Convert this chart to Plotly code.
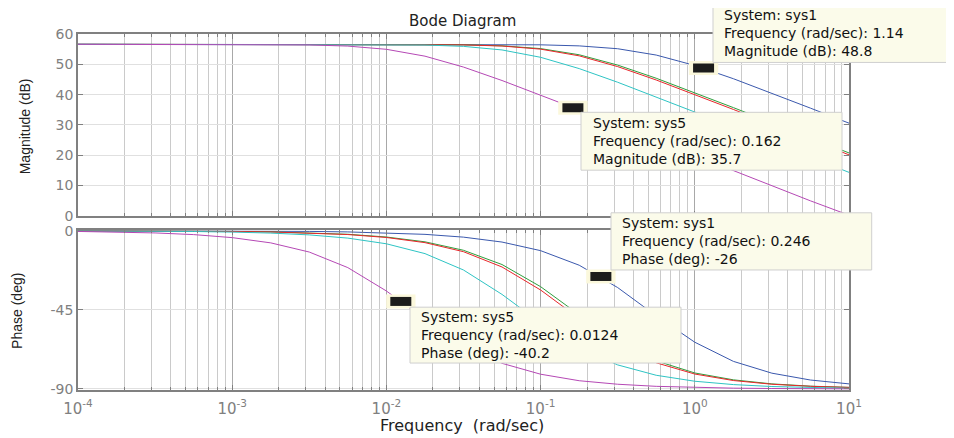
import plotly.graph_objects as go

# ---------------- data ----------------
freq = [1e-4, 1.78e-4, 3.16e-4, 5.62e-4,
        1e-3, 1.78e-3, 3.16e-3, 5.62e-3,
        1e-2, 1.78e-2, 3.16e-2, 5.62e-2,
        0.1, 0.178, 0.316, 0.562,
        1, 1.78, 3.16, 5.62, 10]

mag_sys1 = [56.6, 56.6, 56.6, 56.6, 56.6, 56.6, 56.6, 56.6, 56.6, 56.59, 56.58,
            56.55, 56.43, 56.08, 55.14, 53.05, 49.61, 45.24, 40.48, 35.54, 30.57]
mag_sys2 = [56.6, 56.6, 56.6, 56.6, 56.6, 56.6, 56.6, 56.59, 56.58, 56.55, 56.44,
            56.1, 55.18, 53.14, 49.74, 45.4, 40.63, 35.7, 30.73, 25.74, 20.74]
mag_sys3 = [56.6, 56.6, 56.6, 56.6, 56.6, 56.6, 56.6, 56.59, 56.58, 56.54, 56.41,
            56.03, 55.0, 52.79, 49.24, 44.82, 40.03, 35.09, 30.11, 25.12, 20.12]
mag_sys4 = [56.6, 56.6, 56.6, 56.6, 56.6, 56.6, 56.59, 56.58, 56.53, 56.37, 55.92,
            54.74, 52.31, 48.58, 44.08, 39.25, 34.3, 29.32, 24.33, 19.33, 14.33]
mag_sys5 = [56.6, 56.6, 56.6, 56.59, 56.58, 56.54, 56.4, 56.01, 54.95, 52.68, 49.09,
            44.65, 39.84, 34.91, 29.93, 24.93, 19.94, 14.94, 9.94, 4.94, 0.2]

phase_sys1 = [-0.01, -0.02, -0.04, -0.06, -0.11, -0.2, -0.36, -0.65, -1.15, -2.04, -3.62,
              -6.42, -11.31, -19.6, -32.3, -48.4, -63.4, -74.3, -81.0, -84.9, -87.1]
phase_sys2 = [-0.04, -0.06, -0.11, -0.2, -0.36, -0.63, -1.12, -2.0, -3.55, -6.3, -11.1,
              -19.2, -31.8, -47.8, -63.0, -74.0, -80.9, -84.8, -87.1, -88.4, -89.1]
phase_sys3 = [-0.04, -0.07, -0.12, -0.22, -0.38, -0.68, -1.21, -2.15, -3.82, -6.76, -11.9,
              -20.6, -33.7, -49.9, -64.6, -75.1, -81.5, -85.2, -87.3, -88.5, -89.1]
phase_sys4 = [-0.07, -0.13, -0.24, -0.42, -0.75, -1.32, -2.35, -4.18, -7.41, -13.0, -22.3,
              -36.2, -52.4, -66.6, -76.3, -82.2, -85.6, -87.5, -88.6, -89.2, -89.6]
phase_sys5 = [-0.39, -0.69, -1.23, -2.19, -3.9, -6.9, -12.1, -20.96, -34.25, -50.45, -65.1,
              -75.4, -81.6, -85.3, -87.3, -88.5, -89.16, -89.53, -89.73, -89.85, -89.92]

system_names = ["sys1", "sys2", "sys3", "sys4", "sys5"]
mag_series = [mag_sys1, mag_sys2, mag_sys3, mag_sys4, mag_sys5]
phase_series = [phase_sys1, phase_sys2, phase_sys3, phase_sys4, phase_sys5]

mag_ticks = [0, 10, 20, 30, 40, 50, 60]
phase_ticks = [0, -45, -90]
phase_tick_labels = ["0", "-45", "-90"]
freq_ticks = [1e-4, 1e-3, 1e-2, 1e-1, 1, 10]
freq_tick_labels = ["10<sup>-4</sup>", "10<sup>-3</sup>", "10<sup>-2</sup>",
                    "10<sup>-1</sup>", "10<sup>0</sup>", "10<sup>1</sup>"]

# data tips
tip_system = ["sys1", "sys5", "sys1", "sys5"]
tip_freq = [1.14, 0.162, 0.246, 0.0124]
tip_value = [48.8, 35.7, -26, -40.2]
tip_label = ["Magnitude (dB)", "Magnitude (dB)", "Phase (deg)", "Phase (deg)"]
tip_panel = ["mag", "mag", "phase", "phase"]

# ---------------- styling / layout ----------------
colors = ["#3a58ad", "#2e9e3e", "#e8262a", "#2ec4c4", "#b548b5"]

# the page body has an 8px margin; the figure fills the rest of the window
W, H = 946, 430
ML, MR, MT, MB = 70, 105, 25.5, 47.7
PW = W - ML - MR
PH = H - MT - MB
OFF = 8


def px(x):  # window pixel -> paper fraction
    return (x - OFF - ML) / PW


def py(y):
    return (H - MB - (y - OFF)) / PH


FONT = "DejaVu Sans, Verdana, sans-serif"
NARROW = "Liberation Sans Narrow, Arial Narrow, Liberation Sans, Arial, sans-serif"
GRAY = "#808080"

fig = go.Figure()
for name, col, m in zip(system_names, colors, mag_series):
    fig.add_trace(go.Scatter(x=freq, y=m, mode="lines", name=name,
                             line=dict(color=col, width=1),
                             xaxis="x", yaxis="y", hoverinfo="skip", showlegend=False))
for name, col, p in zip(system_names, colors, phase_series):
    fig.add_trace(go.Scatter(x=freq, y=p, mode="lines", name=name,
                             line=dict(color=col, width=1),
                             xaxis="x2", yaxis="y2", hoverinfo="skip", showlegend=False))

# data-tip markers (black bar with pale border), drawn through the axes
for panel, xa, ya in (("mag", "x", "y"), ("phase", "x2", "y2")):
    fx = [f for f, pn in zip(tip_freq, tip_panel) if pn == panel]
    fy = [v for v, pn in zip(tip_value, tip_panel) if pn == panel]
    fig.add_trace(go.Scatter(x=fx, y=fy, mode="markers", xaxis=xa, yaxis=ya,
                             marker=dict(symbol="line-ew", size=21,
                                         line=dict(color="#fbf8dc", width=14)),
                             hoverinfo="skip", showlegend=False))
    fig.add_trace(go.Scatter(x=fx, y=fy, mode="markers", xaxis=xa, yaxis=ya,
                             marker=dict(symbol="line-ew", size=15,
                                         line=dict(color="#1c1c1c", width=9)),
                             hoverinfo="skip", showlegend=False))

minor_vals = [k * 10 ** d for d in range(-4, 1) for k in range(2, 10)]

xcommon = dict(type="log", range=[-4, 1], domain=[0, 1],
               tickmode="array", tickvals=freq_ticks, ticktext=freq_tick_labels,
               showgrid=True, gridcolor="#a8a8a8", gridwidth=1,
               ticks="inside", ticklen=5, tickcolor=GRAY,
               showline=True, linecolor=GRAY, linewidth=1.5, mirror="ticks",
               minor=dict(tickmode="array", tickvals=minor_vals, showgrid=True,
                          gridcolor="#cacaca", gridwidth=1, ticks="inside",
                          ticklen=3, tickcolor=GRAY),
               zeroline=False)

ycommon = dict(showgrid=True, gridcolor="#e0e0e0", gridwidth=1,
               ticks="inside", ticklen=5, tickcolor=GRAY,
               showline=True, linecolor=GRAY, linewidth=1.5, mirror="ticks",
               zeroline=False, tickfont=dict(family=FONT, size=14, color=GRAY))

fig.update_layout(
    width=W, height=H,
    margin=dict(l=ML, r=MR, t=MT, b=MB, pad=0),
    paper_bgcolor="white", plot_bgcolor="white",
    showlegend=False,
    xaxis=dict(xcommon, anchor="y", showticklabels=False),
    xaxis2=dict(xcommon, anchor="y2", showticklabels=True, matches="x",
                ticklabelstandoff=4,
                tickfont=dict(family=FONT, size=15, color=GRAY)),
    yaxis=dict(ycommon, anchor="x", domain=[py(215.7), 1], range=[0, 60],
               tickmode="array", tickvals=mag_ticks),
    yaxis2=dict(ycommon, anchor="x2", domain=[0, py(230.3)], range=[-90.58, 0.23],
                tickmode="array", tickvals=phase_ticks, ticktext=phase_tick_labels),
)

ann = []
shapes = []

# titles
ann.append(dict(text="Bode Diagram", xref="paper", yref="paper", x=px(462), y=py(20),
                xanchor="center", yanchor="middle", showarrow=False,
                font=dict(family=FONT, size=15, color="#222")))
ann.append(dict(text="Frequency\u00a0 (rad/sec)", xref="paper", yref="paper", x=px(462), y=py(426),
                xanchor="center", yanchor="middle", showarrow=False,
                font=dict(family=FONT, size=16, color="#222")))
ann.append(dict(text="Magnitude (dB)", xref="paper", yref="paper", x=px(25), y=py(126),
                xanchor="center", yanchor="middle", showarrow=False, textangle=-90,
                font=dict(family=NARROW, size=14, color="#222")))
ann.append(dict(text="Phase (deg)", xref="paper", yref="paper", x=px(17), y=py(311),
                xanchor="center", yanchor="middle", showarrow=False, textangle=-90,
                font=dict(family=NARROW, size=14, color="#222")))

# data-tip boxes: (left, top, right, bottom, text-left) in window pixels
tip_boxes = [(713, 3, 962, 62, 722),
             (581, 112, 842, 170, 591),
             (611, 212.7, 871.7, 270, 620),
             (410, 307.3, 681, 363.3, 419)]

for i, (x0, y0, x1, y1, tx) in enumerate(tip_boxes):
    shapes.append(dict(type="rect", xref="paper", yref="paper",
                       x0=px(x0), x1=px(x1), y0=py(y1), y1=py(y0),
                       fillcolor="#fbfbea", line=dict(color="#cfcfcf", width=1),
                       layer="above"))
    text = "<br>".join([f"System: {tip_system[i]}",
                        f"Frequency (rad/sec): {tip_freq[i]:g}",
                        f"{tip_label[i]}: {tip_value[i]:g}"])
    ann.append(dict(text=text, xref="paper", yref="paper", x=px(tx), y=py((y0 + y1) / 2),
                    xanchor="left", yanchor="middle", align="left", showarrow=False,
                    font=dict(family=FONT, size=14, color="#111")))

fig.update_layout(annotations=ann, shapes=shapes)

fig.write_html("out.html")
